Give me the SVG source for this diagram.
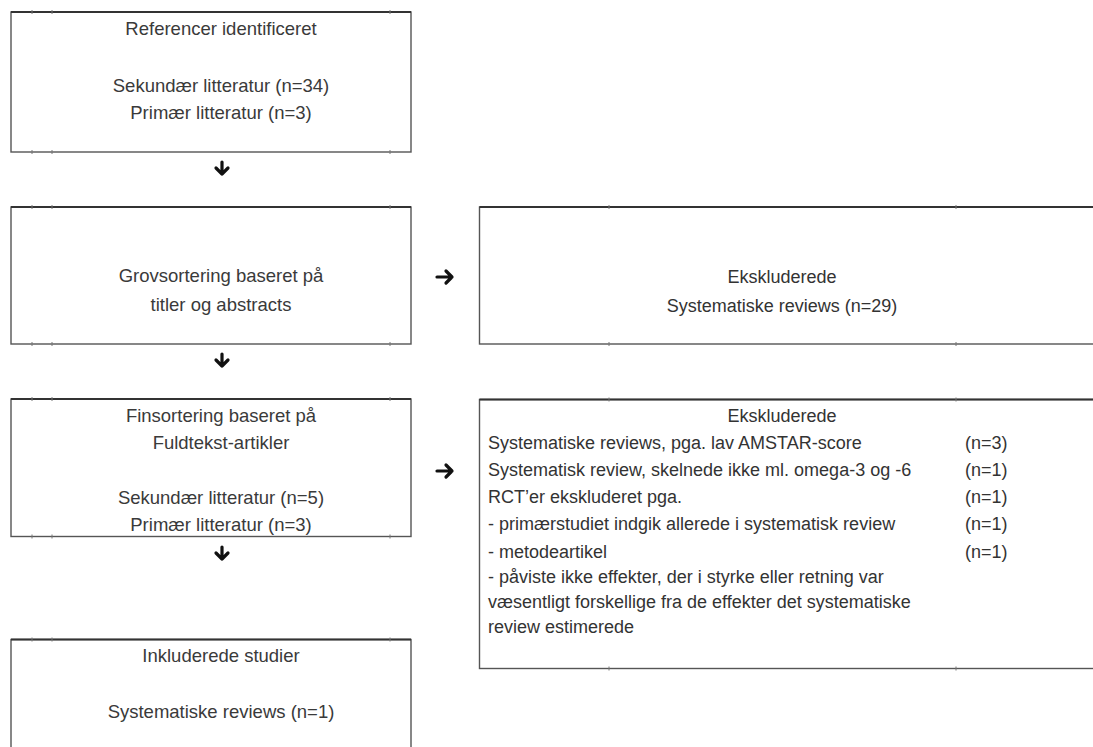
<svg xmlns="http://www.w3.org/2000/svg" width="1093" height="747" viewBox="0 0 1093 747">
<style>
  .box { fill: #ffffff; stroke: #555555; stroke-width: 1.4; }
  .top { stroke: #333333; stroke-width: 1.8; }
  .tick { stroke: #777777; stroke-width: 1; }
  .t { font-family: "Liberation Sans", Arial, sans-serif; font-size: 18.5px; fill: #3a3a3a; }
  .c { text-anchor: middle; }
  .r { font-family: "Liberation Sans", Arial, sans-serif; font-size: 18px; fill: #333333; }
  .arr { fill: none; stroke: #111111; stroke-width: 3.2; stroke-linecap: round; stroke-linejoin: round; }
</style>
<rect width="1093" height="747" fill="#ffffff"/>

<g id="node-referencer">
  <rect class="box" x="11" y="12" width="400" height="140"/>
  <line class="top" x1="11" y1="12" x2="411" y2="12"/>
  <path class="tick" d="M32 10v4M52 10v4M390 10v4M32 150v4M52 150v4M390 150v4"/>
  <text class="t c" x="221" y="35">Referencer identificeret</text>
  <text class="t c" x="221" y="92">Sekundær litteratur (n=34)</text>
  <text class="t c" x="221" y="119">Primær litteratur (n=3)</text>
</g>

<g id="node-grovsortering">
  <rect class="box" x="11" y="207" width="400" height="137"/>
  <line class="top" x1="11" y1="207" x2="411" y2="207"/>
  <path class="tick" d="M32 205v4M52 205v4M390 205v4M32 342v4M52 342v4M390 342v4"/>
  <text class="t c" x="221" y="282">Grovsortering baseret på</text>
  <text class="t c" x="221" y="311">titler og abstracts</text>
</g>

<g id="node-ekskl1">
  <rect class="box" x="479.5" y="207" width="640" height="137"/>
  <line class="top" x1="479.5" y1="207" x2="1093" y2="207"/>
  <path class="tick" d="M609 205v4M956 205v4M609 342v4M956 342v4"/>
  <text class="r c" x="782" y="283">Ekskluderede</text>
  <text class="r c" x="782" y="312">Systematiske reviews (n=29)</text>
</g>

<g id="node-finsortering">
  <rect class="box" x="11" y="399" width="400" height="137.5"/>
  <line class="top" x1="11" y1="399" x2="411" y2="399"/>
  <path class="tick" d="M32 397v4M52 397v4M390 397v4M32 534.5v4M52 534.5v4M390 534.5v4"/>
  <text class="t c" x="221" y="422">Finsortering baseret på</text>
  <text class="t c" x="221" y="449">Fuldtekst-artikler</text>
  <text class="t c" x="221" y="504">Sekundær litteratur (n=5)</text>
  <text class="t c" x="221" y="531">Primær litteratur (n=3)</text>
</g>

<g id="node-ekskl2">
  <rect class="box" x="479.5" y="399.5" width="640" height="269"/>
  <line class="top" x1="479.5" y1="399.5" x2="1093" y2="399.5"/>
  <path class="tick" d="M609 397.5v4M956 397.5v4M609 666.5v4M956 666.5v4"/>
  <text class="r c" x="782" y="422">Ekskluderede</text>
  <text class="r" x="488" y="449">Systematiske reviews, pga. lav AMSTAR-score</text>
  <text class="r" x="965" y="449">(n=3)</text>
  <text class="r" x="488" y="476">Systematisk review, skelnede ikke ml. omega-3 og -6</text>
  <text class="r" x="965" y="476">(n=1)</text>
  <text class="r" x="488" y="503">RCT’er ekskluderet pga.</text>
  <text class="r" x="965" y="503">(n=1)</text>
  <text class="r" x="488" y="530">- primærstudiet indgik allerede i systematisk review</text>
  <text class="r" x="965" y="530">(n=1)</text>
  <text class="r" x="488" y="558">- metodeartikel</text>
  <text class="r" x="965" y="558">(n=1)</text>
  <text class="r" x="488" y="583">- påviste ikke effekter, der i styrke eller retning var</text>
  <text class="r" x="488" y="608">væsentligt forskellige fra de effekter det systematiske</text>
  <text class="r" x="488" y="633">review estimerede</text>
</g>

<g id="node-inkluderede">
  <rect class="box" x="11" y="639.5" width="400" height="130"/>
  <line class="top" x1="11" y1="639.5" x2="411" y2="639.5"/>
  <path class="tick" d="M32 637.5v4M52 637.5v4M390 637.5v4"/>
  <text class="t c" x="221" y="662">Inkluderede studier</text>
  <text class="t c" x="221" y="718">Systematiske reviews (n=1)</text>
</g>

<g id="connectors">
  <path class="arr" d="M222 162v12M216 168l6 6 6-6"/>
  <path class="arr" d="M222 354v12M216 360l6 6 6-6"/>
  <path class="arr" d="M222 547v12M216 553l6 6 6-6"/>
  <path class="arr" d="M437 277h15M446 271l6 6-6 6"/>
  <path class="arr" d="M437 471h15M446 465l6 6-6 6"/>
</g>
</svg>
